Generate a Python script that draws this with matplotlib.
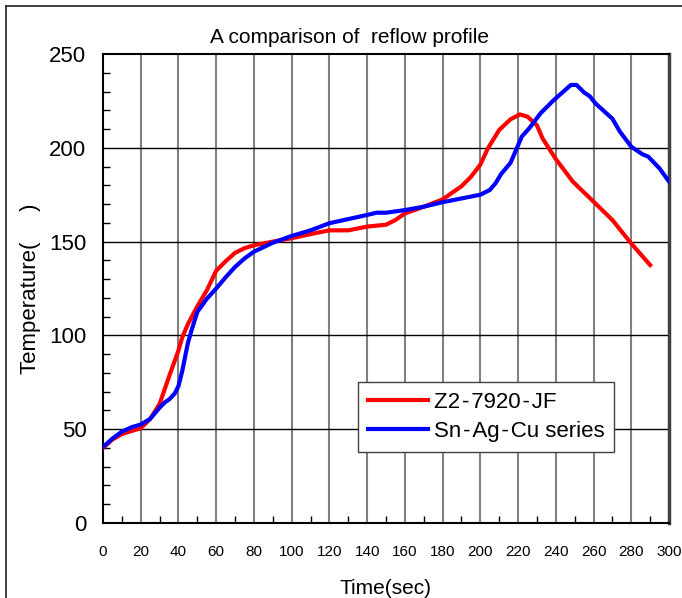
import matplotlib
matplotlib.use("Agg")
import matplotlib.pyplot as plt
from matplotlib.lines import Line2D
from matplotlib.ticker import MultipleLocator

# reflow profile readings, temperature vs time
red_t = [0, 5, 10, 15, 20, 25, 30, 35, 40, 42, 45, 50, 55, 60, 65, 70, 75, 80, 90, 100,
         110, 120, 130, 140, 150, 155, 160, 170, 180, 190, 195, 200, 204, 210, 216, 221,
         225, 230, 233, 240, 249, 260, 270, 280, 290]
red_temp = [40, 44.5, 47.4, 49, 50.5, 55.5, 63.5, 78, 92, 99, 106, 115.5, 124, 134.5,
            139.5, 144, 146.5, 148, 150, 151.8, 154, 156, 156, 158, 159, 161.5, 165, 168.6,
            172.5, 179.5, 184.5, 191, 199.7, 209.5, 215.2, 217.8, 216.6, 212, 205, 194, 182,
            171.3, 161.5, 149, 137.5]

blue_t = [0, 5, 10, 15, 20, 25, 30, 33, 35, 38, 40, 42, 45, 47, 50, 55, 60, 65, 70, 75, 80,
          90, 100, 110, 120, 130, 140, 145, 150, 160, 170, 180, 190, 200, 205, 208, 211, 216,
          222, 226, 232, 239, 248, 251, 255, 258, 261, 270, 274, 280, 286, 289, 295, 300]
blue_temp = [40.5, 45, 48.7, 51, 52.5, 55.5, 61.5, 64.5, 65.8, 69, 73, 81, 96, 103, 112.5,
             119.5, 125, 131, 136.5, 141, 144.6, 149.4, 153, 156, 159.8, 162, 164.2, 165.4,
             165.4, 166.8, 168.6, 171, 173, 175, 177.5, 181, 186, 192, 206, 210.5, 218.5,
             225.5, 233.5, 233.5, 229.5, 227.5, 223.7, 215.5, 208.6, 200.6, 196.5, 195.3,
             189, 182]

labels = ["Z2\u200a-\u200a7920\u200a-\u200aJF", "Sn\u200a-\u200aAg\u200a-\u200aCu series"]

plt.rcParams["font.family"] = ["Liberation Sans", "DejaVu Sans"]

fig = plt.figure(figsize=(6.82, 5.98), dpi=100)
ax = fig.add_axes([103 / 682, 75 / 598, 566 / 682, 469 / 598])

# outer frame (top and left edges only show)
fig.add_artist(Line2D([6 / 682, 6 / 682], [0, 1 - 6 / 598], transform=fig.transFigure,
                      color="#202020", lw=1.2))
fig.add_artist(Line2D([6 / 682, 1], [1 - 6 / 598, 1 - 6 / 598], transform=fig.transFigure,
                      color="#202020", lw=1.2))

ax.plot(red_t, red_temp, color="#ff0000", lw=3, label=labels[0], zorder=3)
ax.plot(blue_t, blue_temp, color="#0000ff", lw=3, label=labels[1], zorder=3)

ax.set_xlim(0, 300)
ax.set_ylim(0, 250)
ax.xaxis.set_major_locator(MultipleLocator(20))
ax.xaxis.set_minor_locator(MultipleLocator(10))
ax.yaxis.set_major_locator(MultipleLocator(50))
ax.yaxis.set_minor_locator(MultipleLocator(10))

for x in range(20, 300, 20):
    ax.axvline(x, color="#808080", lw=1.5, zorder=1)
for y in range(50, 250, 50):
    ax.axhline(y, color="black", lw=1, zorder=1)

ax.tick_params(axis="x", which="major", length=0, pad=16, labelsize=11)
ax.tick_params(axis="x", which="minor", direction="in", length=5, width=1)
ax.tick_params(axis="y", which="major", length=0, pad=12, labelsize=16)
ax.tick_params(axis="y", which="minor", direction="in", length=5, width=1)

for side in ["left", "top", "bottom"]:
    ax.spines[side].set_linewidth(1.5)
    ax.spines[side].set_color("black")
ax.spines["right"].set_linewidth(2.5)
ax.spines["right"].set_color("#404040")

ax.text(0.435, 1.014, "A comparison of  reflow profile", transform=ax.transAxes,
        ha="center", va="bottom", fontsize=15)
ax.set_xlabel("Time(sec)", fontsize=15, labelpad=14)
ax.set_ylabel("Temperature(     )", fontsize=16, labelpad=6)

leg = ax.legend(loc="lower left", bbox_to_anchor=(0.4505, 0.1514), borderaxespad=0,
                fontsize=16, handlelength=2.7, handletextpad=0.25, labelspacing=0.35,
                borderpad=0.45, frameon=True, fancybox=False, framealpha=1)
leg.get_frame().set_edgecolor("#404040")
leg.get_frame().set_linewidth(1)

fig.savefig("out.png", dpi=100)
